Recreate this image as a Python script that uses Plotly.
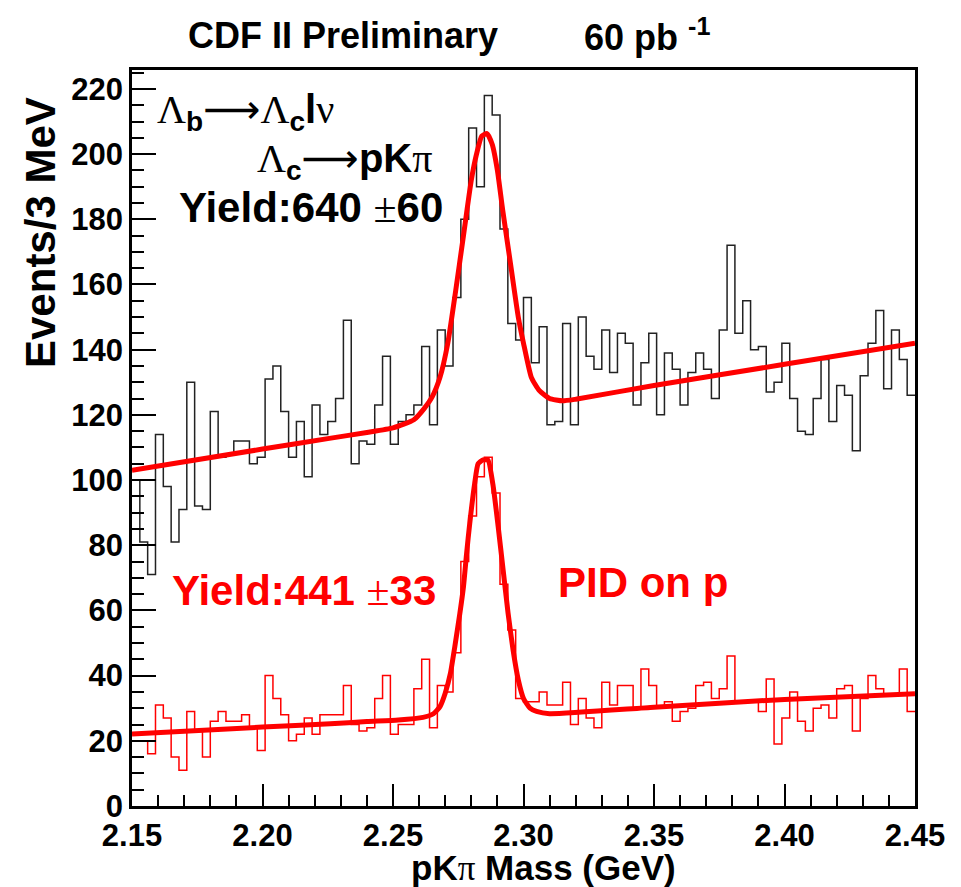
import plotly.graph_objects as go

# ---------------- data ----------------
mass_min = 2.15
mass_max = 2.45
bin_width = 0.003

# all candidates (black histogram), 100 bins of 3 MeV
counts_all = [100, 81, 71, 114, 98, 81, 91, 130, 92, 91,
              121, 107, 108, 112, 112, 105, 107, 131, 135, 121,
              107, 118, 101, 123, 114, 118, 125, 149, 105, 112,
              111, 123, 138, 111, 118, 120, 123, 141, 117, 146,
              135, 156, 180, 208, 190, 218, 212, 177, 148, 143,
              156, 136, 147, 117, 118, 148, 117, 150, 138, 134,
              146, 133, 145, 142, 123, 136, 145, 120, 139, 134,
              123, 133, 139, 134, 125, 146, 172, 145, 155, 140,
              141, 127, 130, 142, 125, 115, 114, 125, 137, 118,
              129, 126, 109, 132, 142, 152, 128, 146, 137, 126]

# with PID on proton (red histogram)
counts_pid = [20, 20, 16, 31, 27, 15, 11, 29, 23, 15,
              26, 29, 26, 26, 28, 24, 17, 40, 33, 28,
              20, 22, 27, 22, 28, 28, 28, 37, 25, 23,
              24, 33, 40, 22, 25, 25, 36, 45, 24, 37,
              35, 47, 75, 89, 101, 107, 96, 68, 54, 33,
              32, 32, 35, 31, 31, 38, 25, 33, 27, 24,
              38, 31, 37, 37, 30, 42, 37, 30, 32, 26,
              29, 30, 37, 38, 33, 36, 46, 32, 32, 32,
              29, 39, 19, 27, 35, 26, 23, 30, 31, 27,
              36, 37, 23, 33, 40, 36, 34, 34, 42, 29]

# fitted curves
fit_all_mass = [2.150, 2.200, 2.225, 2.240, 2.250, 2.258, 2.262, 2.265, 2.268,
                2.271, 2.274, 2.277, 2.280, 2.282, 2.284, 2.286, 2.288, 2.290,
                2.292, 2.295, 2.298, 2.300, 2.303, 2.306, 2.310, 2.315, 2.320,
                2.350, 2.400, 2.450]
fit_all_val = [103, 109.5, 112.7, 114.6, 116, 118.5, 122, 125.5, 131.5,
               142, 158, 175, 192, 200, 205.5, 206.3, 203, 195,
               183, 166.5, 150, 142, 131.5, 127.5, 125, 124.3, 124.8,
               129, 135.5, 142]

fit_pid_mass = [2.150, 2.200, 2.226, 2.240, 2.252, 2.2615, 2.2655, 2.268, 2.270,
                2.272, 2.2737, 2.2756, 2.277, 2.2782, 2.2794, 2.2813, 2.2826,
                2.2845, 2.2864, 2.2884, 2.2903, 2.2922, 2.2941, 2.296, 2.298,
                2.300, 2.3025, 2.305, 2.310, 2.350, 2.400, 2.450]
fit_pid_val = [22.1, 24.2, 25.2, 25.9, 26.4, 27.2, 28.3, 30.5, 34.6,
               40.7, 49, 59, 67.3, 77.5, 86.7, 99, 105,
               106.2, 106.1, 98, 85.7, 72.4, 59.1, 47.9, 38.7,
               33, 30, 29, 28.3, 30.3, 32.7, 34.4]

x_ticks = [2.15, 2.20, 2.25, 2.30, 2.35, 2.40, 2.45]
x_tick_labels = ["2.15", "2.20", "2.25", "2.30", "2.35", "2.40", "2.45"]
y_ticks = list(range(0, 221, 20))

# ---------------- figure ----------------
W, H = 961, 887
ML, MR, MT, MB = 132, 46, 70, 81
PW, PH = W - ML - MR, H - MT - MB

n_bins = len(counts_all)
edges = [mass_min + bin_width * i for i in range(n_bins + 1)]


def step_xy(counts):
    return edges[:], list(counts) + [counts[-1]]


def px(xp):
    return (xp - ML) / PW


def py(yp):
    return (H - MB - yp) / PH


FONT = "Liberation Sans"

fig = go.Figure()

xa, ya = step_xy(counts_all)
fig.add_trace(go.Scatter(x=xa, y=ya, mode="lines", line=dict(color="#222222", width=1.5, shape="hv"),
                         showlegend=False, hoverinfo="skip"))
xp_, yp_ = step_xy(counts_pid)
fig.add_trace(go.Scatter(x=xp_, y=yp_, mode="lines", line=dict(color="#ff0000", width=1.5, shape="hv"),
                         showlegend=False, hoverinfo="skip"))
fig.add_trace(go.Scatter(x=fit_all_mass, y=fit_all_val, mode="lines",
                         line=dict(color="#ff0000", width=5, shape="spline", smoothing=0.5),
                         showlegend=False, hoverinfo="skip"))
fig.add_trace(go.Scatter(x=fit_pid_mass, y=fit_pid_val, mode="lines",
                         line=dict(color="#ff0000", width=5, shape="spline", smoothing=0.5),
                         showlegend=False, hoverinfo="skip"))

axis_font = dict(family=FONT, size=31, color="black", weight="bold")

fig.update_xaxes(range=[mass_min, mass_max], tickvals=x_ticks, ticktext=x_tick_labels,
                 ticks="inside", ticklen=22, tickwidth=1.5, tickcolor="black",
                 minor=dict(dtick=0.01, tick0=2.15, ticks="inside", ticklen=11, tickwidth=1.5, tickcolor="black"),
                 showline=True, linecolor="black", linewidth=2.5, mirror=True, automargin=False,
                 showgrid=False, zeroline=False, tickfont=axis_font)
fig.update_yaxes(range=[0, 225.8], tickvals=y_ticks,
                 ticks="inside", ticklen=24, tickwidth=1.5, tickcolor="black",
                 minor=dict(dtick=5, tick0=0, ticks="inside", ticklen=12, tickwidth=1.5, tickcolor="black"),
                 showline=True, linecolor="black", linewidth=2.5, mirror=True, automargin=False,
                 showgrid=False, zeroline=False, tickfont=axis_font)

serif = "<span style=\"font-family:'Liberation Serif';font-weight:normal\">"
arrow = "<span style=\"font-family:'DejaVu Sans';font-weight:normal;font-size:40px\">⟶</span>"
annotations = [
    dict(text="<b>CDF II Preliminary</b>", x=px(186), y=py(35),
         xref="paper", yref="paper", xanchor="left", yanchor="middle", showarrow=False,
         font=dict(family=FONT, size=36, color="black")),
    dict(text="<b>60 pb <sup>-1</sup></b>", x=px(582), y=py(35),
         xref="paper", yref="paper", xanchor="left", yanchor="middle", showarrow=False,
         font=dict(family=FONT, size=36, color="black")),
    dict(text="<b>Events/3 MeV</b>", x=px(15), y=py(95), textangle=-90,
         xref="paper", yref="paper", xanchor="left", yanchor="top", showarrow=False,
         font=dict(family=FONT, size=42, color="black")),
    dict(text="<b>pK</b>" + serif + "π</span><b> Mass (GeV)</b>", x=px(678), y=py(868),
         xref="paper", yref="paper", xanchor="right", yanchor="middle", showarrow=False,
         font=dict(family=FONT, size=35, color="black")),
    dict(text=serif + "Λ</span><b><sub>b</sub></b>" + arrow + serif + "Λ</span><b><sub>c</sub>l</b>" + serif + "ν</span>",
         x=2.1587, y=213, xanchor="left", yanchor="middle", showarrow=False,
         font=dict(family=FONT, size=40, color="black")),
    dict(text=serif + "Λ</span><b><sub>c</sub></b>" + arrow + "<b>pK</b>" + serif + "π</span>",
         x=2.197, y=198, xanchor="left", yanchor="middle", showarrow=False,
         font=dict(family=FONT, size=40, color="black")),
    dict(text="<b>Yield:640 </b>" + serif + "±</span><b>60</b>",
         x=2.1673, y=183.5, xanchor="left", yanchor="middle", showarrow=False,
         font=dict(family=FONT, size=42, color="black")),
    dict(text="<b>Yield:441 </b>" + serif + "±</span><b>33</b>",
         x=2.1645, y=66, xanchor="left", yanchor="middle", showarrow=False,
         font=dict(family=FONT, size=42, color="#ff0000")),
    dict(text="<b>PID on p</b>",
         x=2.3124, y=68.5, xanchor="left", yanchor="middle", showarrow=False,
         font=dict(family=FONT, size=42, color="#ff0000")),
]

fig.update_layout(width=W, height=H, margin=dict(l=ML, r=MR, t=MT, b=MB),
                  paper_bgcolor="white", plot_bgcolor="white",
                  annotations=annotations, showlegend=False)

fig.write_html("out.html", config={"displayModeBar": False},
               post_script="document.body.style.margin='0';document.body.style.overflow='hidden';")
